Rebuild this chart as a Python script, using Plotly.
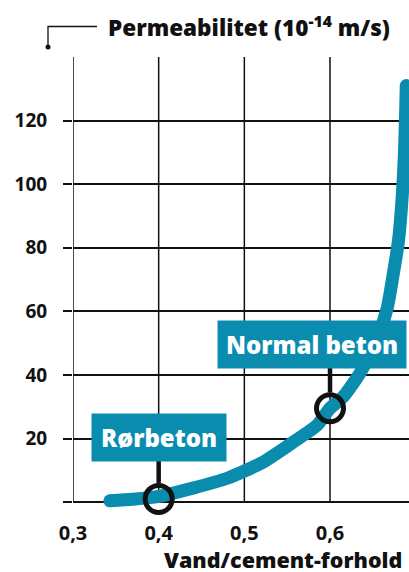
import plotly.graph_objects as go

# Permeability of concrete vs water/cement ratio
wc_ratio = [0.343, 0.37, 0.40, 0.44, 0.48, 0.52, 0.555, 0.585, 0.60, 0.615,
            0.635, 0.655, 0.667, 0.674, 0.680, 0.684, 0.687, 0.689]
permeability = [0.4, 0.9, 1.8, 4.4, 7.5, 12.3, 18.5, 24.2, 29.5, 33.0,
                40.6, 51.0, 61.3, 72.0, 82.4, 95.0, 110.7, 131.0]

# Highlighted concrete types
point_names = ["Rørbeton", "Normal beton"]
point_x = [0.40, 0.60]
point_y = [1.0, 29.5]

x_ticks = [0.3, 0.4, 0.5, 0.6]
x_ticktext = ["0,3", "0,4", "0,5", "0,6"]
y_ticks = [0, 20, 40, 60, 80, 100, 120]
y_ticktext = ["", "20", "40", "60", "80", "100", "120"]

TEAL = "#0A8CAF"
INK = "#111111"
FONT = "Open Sans"

W, H = 409, 572
ML, MR, MT, MB = 73, 0, 57, 54
X_RANGE = [0.3, 0.3 + (W - ML - MR) / 856.7]
Y_RANGE = [-5, 140]
plot_h = H - MT - MB
plot_w = W - ML - MR
px_per_unit = plot_h / (Y_RANGE[1] - Y_RANGE[0])


def paper_x(px):
    return (px - ML) / plot_w


def paper_y(py):
    return (H - MB - py) / plot_h


fig = go.Figure()

# main curve
fig.add_trace(go.Scatter(
    x=wc_ratio, y=permeability, mode="lines",
    line=dict(color=TEAL, width=13, shape="spline", smoothing=0.6),
    hoverinfo="skip", showlegend=False,
))
# rounded ends of the curve
fig.add_trace(go.Scatter(
    x=[wc_ratio[0], wc_ratio[-1]], y=[permeability[0], permeability[-1]],
    mode="markers", marker=dict(color=TEAL, size=13),
    hoverinfo="skip", showlegend=False,
))

# label boxes with stems down to the highlighted points
ring_r = 16 / px_per_unit
box_h_px = 47
box_specs = [
    dict(cx=0.40, cy=20.3, w=134),
    dict(cx=0.579, cy=49.5, w=188),
]
for name, x, y, spec in zip(point_names, point_x, point_y, box_specs):
    fig.add_trace(go.Scatter(
        x=[x, x], y=[y + ring_r, spec["cy"]], mode="lines",
        line=dict(color=INK, width=4.5),
        hoverinfo="skip", showlegend=False, cliponaxis=False,
    ))
    fig.add_annotation(
        x=spec["cx"], y=spec["cy"], xref="x", yref="y",
        text=name, showarrow=False,
        xanchor="center", yanchor="middle",
        width=spec["w"], height=box_h_px, borderpad=0,
        bgcolor=TEAL, font=dict(family=FONT, size=24, color="white", weight=800),
    )

fig.add_trace(go.Scatter(
    x=point_x, y=point_y, mode="markers",
    marker=dict(symbol="circle-open", size=27, color=INK, line=dict(width=5, color=INK)),
    hoverinfo="skip", showlegend=False, cliponaxis=False,
))

# vertical grid lines from 0 to the top of the chart
for xv in x_ticks:
    fig.add_shape(type="line", xref="x", yref="y", x0=xv, x1=xv, y0=0, y1=Y_RANGE[1],
                  line=dict(color=INK, width=1.5), layer="below")

# axis title with leader line
fig.add_shape(type="path", xref="paper", yref="paper",
              path=(f"M {paper_x(48)} {paper_y(47)} L {paper_x(48)} {paper_y(26.5)} "
                    f"L {paper_x(97)} {paper_y(26.5)}"),
              line=dict(color=INK, width=1.3))
fig.add_shape(type="circle", xref="paper", yref="paper",
              x0=paper_x(45.5), x1=paper_x(50.5), y0=paper_y(44.5), y1=paper_y(49.5),
              fillcolor=INK, line=dict(width=0))
fig.add_annotation(
    xref="paper", yref="paper", x=paper_x(106), y=paper_y(26),
    xanchor="left", yanchor="middle", showarrow=False,
    text="Permeabilitet (10<sup>-14</sup> m/s)",
    font=dict(family=FONT, size=22.5, color=INK, weight=800),
)
fig.add_annotation(
    xref="paper", yref="paper", x=paper_x(404), y=paper_y(576),
    xanchor="right", yanchor="bottom", showarrow=False,
    text="Vand/cement-forhold",
    font=dict(family=FONT, size=21.5, color=INK, weight=800),
)

fig.update_xaxes(
    range=X_RANGE, showgrid=False, zeroline=False, showline=False,
    tickvals=x_ticks, ticktext=x_ticktext, ticks="", ticklabelstandoff=1,
    tickfont=dict(family=FONT, size=20, color=INK, weight=700),
    fixedrange=True,
)
fig.update_yaxes(
    range=Y_RANGE, showgrid=True, gridcolor=INK, gridwidth=1.5,
    zeroline=False, showline=False,
    tickvals=y_ticks, ticktext=y_ticktext,
    ticks="outside", ticklen=9, tickcolor=INK, tickwidth=1.5,
    ticklabelstandoff=12,
    tickfont=dict(family=FONT, size=19, color=INK, weight=700),
    fixedrange=True,
)
fig.update_layout(
    width=W, height=H,
    margin=dict(l=ML, r=MR, t=MT, b=MB),
    paper_bgcolor="white", plot_bgcolor="white",
    showlegend=False,
)

fig.write_html("out.html", config={"displayModeBar": False})
